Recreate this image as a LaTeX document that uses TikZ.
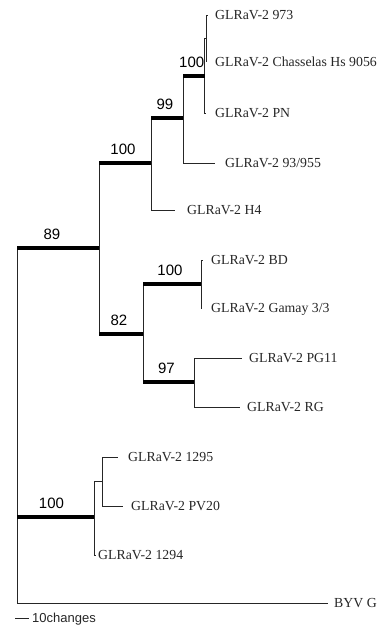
\documentclass[tikz,border=0pt]{standalone}
\usepackage{fontspec}
\setmainfont{Liberation Serif}
\newfontfamily\bootfont{Liberation Sans}
\usetikzlibrary{calc}

\tikzset{
  branch/.style={line width=0.9pt, black!85},
  clade/.style={line width=3.6pt, black},
  taxon/.style={anchor=west, inner sep=0pt, text=black!85,
    font=\fontsize{13.8}{16}\selectfont, text height=9.1pt, text depth=0pt},
  boot/.style={above, inner sep=0pt, yshift=6.5pt, xshift=-2pt,
    font=\bootfont\fontsize{15}{18}\selectfont, text height=10.7pt, text depth=0pt},
  scalelbl/.style={anchor=west, inner sep=0pt, text=black!85,
    font=\bootfont\fontsize{13}{15}\selectfont, text height=9.3pt, text depth=0pt},
}

\begin{document}
\begin{tikzpicture}[x=1pt,y=-1pt]
  \useasboundingbox (0,0) rectangle (380,627);

  % internal nodes
  \coordinate (root)  at (17,425);
  \coordinate (n89)   at (99,248);
  \coordinate (n100a) at (151,163);
  \coordinate (n99)   at (183,118);
  \coordinate (n100b) at (204.5,76);
  \coordinate (n973)  at (206.5,38);
  \coordinate (n82)   at (143,334);
  \coordinate (n100c) at (201,284);
  \coordinate (n97)   at (194,382);
  \coordinate (n100d) at (94,517);
  \coordinate (n1295) at (102,481);

  % tips
  \coordinate (t973)  at (208,15);
  \coordinate (tchas) at (206.5,62);
  \coordinate (tpn)   at (206,113);
  \coordinate (t93)   at (215,163);
  \coordinate (th4)   at (175,210);
  \coordinate (tbd)   at (203,260);
  \coordinate (tgam)  at (202,308);
  \coordinate (tpg)   at (242,358);
  \coordinate (trg)   at (240,407);
  \coordinate (t1295) at (118,457);
  \coordinate (tpv)   at (123,506);
  \coordinate (t1294) at (96,555);
  \coordinate (tbyv)  at (328,603);

  % taxa
  \node[taxon] (l973)  at (215,15)  {GLRaV-2 973};
  \node[taxon] (lchas) at (215,62)  {GLRaV-2 Chasselas Hs 9056};
  \node[taxon] (lpn)   at (215,113) {GLRaV-2 PN};
  \node[taxon] (l93)   at (225,163) {GLRaV-2 93/955};
  \node[taxon] (lh4)   at (187,210) {GLRaV-2 H4};
  \node[taxon] (lbd)   at (211,260) {GLRaV-2 BD};
  \node[taxon] (lgam)  at (211,308) {GLRaV-2 Gamay 3/3};
  \node[taxon] (lpg)   at (249,358) {GLRaV-2 PG11};
  \node[taxon] (lrg)   at (247,407) {GLRaV-2 RG};
  \node[taxon] (l1295) at (128,457) {GLRaV-2 1295};
  \node[taxon] (lpv)   at (131,506) {GLRaV-2 PV20};
  \node[taxon] (l1294) at (98,555)  {GLRaV-2 1294};
  \node[taxon] (lbyv)  at (334,603) {BYV G};

  % branches
  \draw[branch] (root) |- (n89);
  \draw[branch] (root) |- (n100d);
  \draw[branch] (root) |- (tbyv);
  \draw[branch] (n89) |- (n100a);
  \draw[branch] (n89) |- (n82);
  \draw[branch] (n100a) |- (n99);
  \draw[branch] (n100a) |- (th4);
  \draw[branch] (n99) |- (n100b);
  \draw[branch] (n99) |- (t93);
  \draw[branch] (n100b) |- (n973);
  \draw[branch] (n100b) |- (tpn);
  \draw[branch] (n973) |- (t973);
  \draw[branch] (n973) |- (tchas);
  \draw[branch] (n82) |- (n100c);
  \draw[branch] (n82) |- (n97);
  \draw[branch] (n100c) |- (tbd);
  \draw[branch] (n100c) |- (tgam);
  \draw[branch] (n97) |- (tpg);
  \draw[branch] (n97) |- (trg);
  \draw[branch] (n100d) |- (n1295);
  \draw[branch] (n100d) |- (t1294);
  \draw[branch] (n1295) |- (t1295);
  \draw[branch] (n1295) |- (tpv);

  % supported clades
  \draw[clade] (root |- n89) -- node[boot, xshift=-4pt] {89} (n89);
  \draw[clade] (n89 |- n100a) -- node[boot] {100} (n100a);
  \draw[clade] (n100a |- n99) -- node[boot] {99} (n99);
  \draw[clade] (n99 |- n100b) -- node[boot] {100} (n100b);
  \draw[clade] (n89 |- n82) -- node[boot] {82} (n82);
  \draw[clade] (n82 |- n100c) -- node[boot] {100} (n100c);
  \draw[clade] (n82 |- n97) -- node[boot] {97} (n97);
  \draw[clade] (root |- n100d) -- node[boot, xshift=-2pt] {100} (n100d);

  % scale
  \coordinate (sb0) at (15,618);
  \coordinate (sb1) at (29,618);
  \draw[branch] (sb0) -- (sb1);
  \node[scalelbl] (sblbl) at (32,618) {10changes};
\end{tikzpicture}
\end{document}
